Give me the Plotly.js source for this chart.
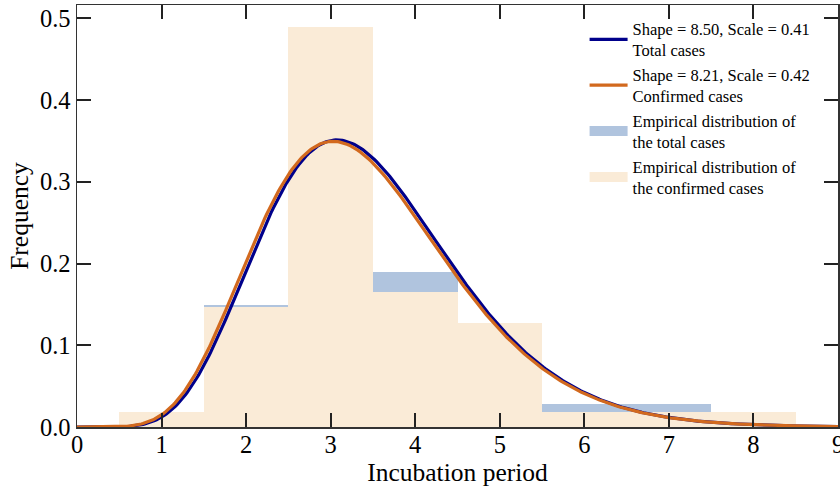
<!DOCTYPE html>
<html>
<head>
<meta charset="utf-8">
<script src="https://cdn.plot.ly/plotly-3.0.1.min.js"></script>
<style>
  html, body { margin: 0; padding: 0; background: #fff; }
  #chart { width: 840px; height: 488px; }
</style>
</head>
<body>
<div id="chart"></div>
<script>
// Incubation period histograms (bin centres, width 1 day)
const periods = [1, 2, 3, 4, 5, 6, 7, 8];
const freqTotal = [0.014, 0.149, 0.465, 0.190, 0.114, 0.028, 0.028, 0.012];
const freqConfirmed = [0.018, 0.147, 0.490, 0.165, 0.127, 0.018, 0.018, 0.018];

// Fitted gamma distributions
const fitTotal = { shape: 8.50, scale: 0.41 };
const fitConfirmed = { shape: 8.21, scale: 0.42 };

const xTicks = [0, 1, 2, 3, 4, 5, 6, 7, 8, 9];
const yTicks = [0.0, 0.1, 0.2, 0.3, 0.4, 0.5];

// log-gamma via Lanczos approximation
function logGamma(z) {
  const g = 7;
  const c = [0.99999999999980993, 676.5203681218851, -1259.1392167224028,
    771.32342877765313, -176.61502916214059, 12.507343278686905,
    -0.13857109526572012, 9.9843695780195716e-6, 1.5056327351493116e-7];
  if (z < 0.5) return Math.log(Math.PI / Math.sin(Math.PI * z)) - logGamma(1 - z);
  z -= 1;
  let a = c[0];
  const t = z + g + 0.5;
  for (let i = 1; i < g + 2; i++) a += c[i] / (z + i);
  return 0.5 * Math.log(2 * Math.PI) + (z + 0.5) * Math.log(t) - t + Math.log(a);
}

function gammaPdf(x, k, theta) {
  if (x <= 0) return 0;
  return Math.exp((k - 1) * Math.log(x) - x / theta - logGamma(k) - k * Math.log(theta));
}

const curveX = [];
for (let i = 0; i <= 450; i++) curveX.push(i * 0.02);
const curveTotal = curveX.map(x => gammaPdf(x, fitTotal.shape, fitTotal.scale));
const curveConfirmed = curveX.map(x => gammaPdf(x, fitConfirmed.shape, fitConfirmed.scale));

const blueBar = '#b0c4de';
const beigeBar = '#faebd7';
const navy = '#00008b';
const orange = '#d2691e';
const serif = '"Liberation Serif", "Times New Roman", serif';

const traces = [
  { type: 'bar', x: periods, y: freqTotal, width: 1, marker: { color: blueBar, line: { width: 0 } },
    showlegend: false, hoverinfo: 'skip' },
  { type: 'bar', x: periods, y: freqConfirmed, width: 1, marker: { color: beigeBar, line: { width: 0 } },
    showlegend: false, hoverinfo: 'skip' },
  { type: 'scatter', mode: 'lines', x: curveX, y: curveTotal, line: { color: navy, width: 3.2 },
    name: 'Shape = 8.50, Scale = 0.41<br>Total cases', legendrank: 1 },
  { type: 'scatter', mode: 'lines', x: curveX, y: curveConfirmed, line: { color: orange, width: 3.2 },
    name: 'Shape = 8.21, Scale = 0.42<br>Confirmed cases', legendrank: 2 },
  // legend swatches for the two histograms
  { type: 'scatter', mode: 'lines', x: [null], y: [null], line: { color: blueBar, width: 12 },
    name: 'Empirical distribution of<br>the total cases', legendrank: 3 },
  { type: 'scatter', mode: 'lines', x: [null], y: [null], line: { color: beigeBar, width: 12 },
    name: 'Empirical distribution of<br>the confirmed cases', legendrank: 4 }
];

const axisCommon = {
  ticks: 'inside', ticklen: 14, tickwidth: 2, tickcolor: '#222',
  showline: true, linecolor: '#333', linewidth: 1.5, mirror: 'ticks',
  showgrid: false, zeroline: false, ticklabeloverflow: 'allow',
  tickfont: { family: serif, size: 24.5, color: '#000' }
};

const layout = {
  width: 840, height: 488,
  margin: { l: 77, r: 2, t: 5, b: 61 },
  paper_bgcolor: '#fff', plot_bgcolor: '#fff',
  barmode: 'overlay', bargap: 0,
  showlegend: true,
  legend: {
    x: 0.667, xanchor: 'left', y: 0.985, yanchor: 'top',
    bgcolor: 'rgba(0,0,0,0)', borderwidth: 0,
    itemwidth: 38,
    font: { family: serif, size: 16.5, color: '#000' }
  },
  xaxis: Object.assign({}, axisCommon, {
    range: [0, 9], tickvals: xTicks, ticktext: xTicks.map(String),
    ticklabelstandoff: -5,
    title: { text: 'Incubation period', font: { family: serif, size: 25.5, color: '#000' }, standoff: 2 }
  }),
  yaxis: Object.assign({}, axisCommon, {
    range: [0, 0.5165], tickvals: yTicks, ticktext: yTicks.map(v => v.toFixed(1)),
    title: { text: 'Frequency', font: { family: serif, size: 25.5, color: '#000' }, standoff: 4 }
  })
};

Plotly.newPlot('chart', traces, layout, { staticPlot: true, displayModeBar: false });
</script>
</body>
</html>
